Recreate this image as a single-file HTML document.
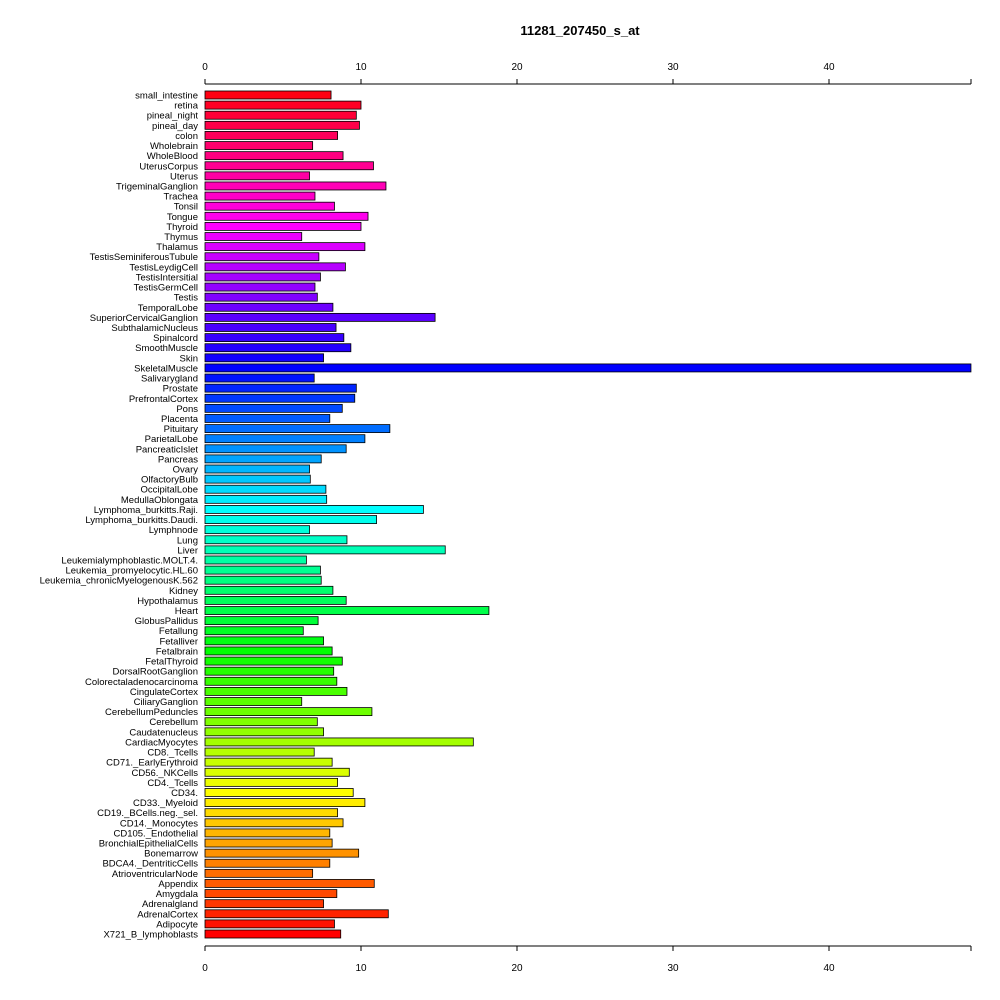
<!DOCTYPE html>
<html><head><meta charset="utf-8"><style>
html,body{margin:0;padding:0;background:#fff;}
svg{display:block;font-family:"Liberation Sans",Arial,sans-serif;}
</style></head><body>
<svg id="chart" width="1000" height="1000" viewBox="0 0 1000 1000">
<text x="580" y="35" text-anchor="middle" font-size="13" font-weight="bold">11281_207450_s_at</text>
<g id="axes"></g><g id="bars"></g><g id="labels"></g>
</svg>
<script>
const categories = ["small_intestine","retina","pineal_night","pineal_day","colon","Wholebrain","WholeBlood","UterusCorpus","Uterus","TrigeminalGanglion","Trachea","Tonsil","Tongue","Thyroid","Thymus","Thalamus","TestisSeminiferousTubule","TestisLeydigCell","TestisIntersitial","TestisGermCell","Testis","TemporalLobe","SuperiorCervicalGanglion","SubthalamicNucleus","Spinalcord","SmoothMuscle","Skin","SkeletalMuscle","Salivarygland","Prostate","PrefrontalCortex","Pons","Placenta","Pituitary","ParietalLobe","PancreaticIslet","Pancreas","Ovary","OlfactoryBulb","OccipitalLobe","MedullaOblongata","Lymphoma_burkitts.Raji.","Lymphoma_burkitts.Daudi.","Lymphnode","Lung","Liver","Leukemialymphoblastic.MOLT.4.","Leukemia_promyelocytic.HL.60","Leukemia_chronicMyelogenousK.562","Kidney","Hypothalamus","Heart","GlobusPallidus","Fetallung","Fetalliver","Fetalbrain","FetalThyroid","DorsalRootGanglion","Colorectaladenocarcinoma","CingulateCortex","CiliaryGanglion","CerebellumPeduncles","Cerebellum","Caudatenucleus","CardiacMyocytes","CD8._Tcells","CD71._EarlyErythroid","CD56._NKCells","CD4._Tcells","CD34.","CD33._Myeloid","CD19._BCells.neg._sel.","CD14._Monocytes","CD105._Endothelial","BronchialEpithelialCells","Bonemarrow","BDCA4._DentriticCells","AtrioventricularNode","Appendix","Amygdala","Adrenalgland","AdrenalCortex","Adipocyte","X721_B_lymphoblasts"];
const values = [8.08,10.0,9.7,9.9,8.5,6.9,8.85,10.8,6.7,11.6,7.05,8.3,10.45,10.0,6.2,10.25,7.3,9.0,7.4,7.05,7.2,8.2,14.75,8.4,8.9,9.35,7.6,49.1,7.0,9.7,9.6,8.8,8.0,11.85,10.25,9.05,7.45,6.7,6.75,7.75,7.8,14.0,11.0,6.7,9.1,15.4,6.5,7.4,7.45,8.2,9.05,18.2,7.25,6.3,7.6,8.15,8.8,8.25,8.45,9.1,6.2,10.7,7.2,7.6,17.2,7.0,8.15,9.25,8.5,9.5,10.25,8.5,8.85,8.0,8.15,9.85,8.0,6.9,10.85,8.45,7.6,11.75,8.3,8.7];
const tickValues = [0,10,20,30,40];
const tickLabels = ["0","10","20","30","40"];

const NS="http://www.w3.org/2000/svg";
const x0=205, pxPer=15.6, xEnd=971;
const xScale=v=>x0+v*pxPer;
const yTop=95, step=(934-95)/83, barH=8;
const yScale=i=>yTop+i*step;
function mk(tag,attrs,parent){const e=document.createElementNS(NS,tag);for(const k in attrs)e.setAttribute(k,attrs[k]);parent.appendChild(e);return e;}
const axes=document.getElementById('axes'),bars=document.getElementById('bars'),labels=document.getElementById('labels');
[[84,-5,70],[946,5,971]].forEach(([y,d,ty],ai)=>{
  const l=mk('line',{x1:x0,x2:xEnd,y1:y,y2:y,stroke:'#000','stroke-width':1},axes);
  
  
  tickValues.forEach((v,i)=>{
    const t=mk('line',{x1:xScale(v),x2:xScale(v),y1:y,y2:y+d,stroke:'#000'},axes);
    
    
    const tx=mk('text',{x:xScale(v),y:ty,'text-anchor':'middle','font-size':10},axes);
    tx.textContent=tickLabels[i];
    
    
  });
  const t=mk('line',{x1:xEnd,x2:xEnd,y1:y,y2:y+d,stroke:'#000'},axes);
  
  
});
const n=categories.length;
categories.forEach((c,i)=>{
  const hue=((n-1-i)/n)*360;
  const yc=yScale(i);
  const r=mk('rect',{x:x0,y:yc-barH/2,width:Math.max(0,xScale(values[i])-x0),height:barH,fill:`hsl(${hue},100%,50%)`,stroke:'#000','stroke-width':0.8},bars);
  
  
  const t=mk('text',{x:198,y:yc+3.5,'text-anchor':'end','font-size':9.5},labels);
  t.textContent=c;
  
  
});
</script>
</body></html>
